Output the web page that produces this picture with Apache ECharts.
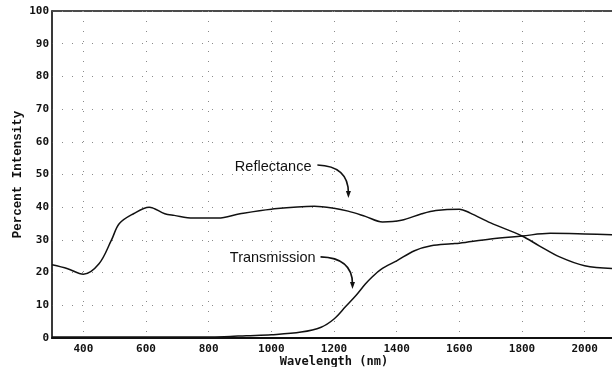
<!DOCTYPE html>
<html>
<head>
<meta charset="utf-8">
<script src="https://cdn.jsdelivr.net/npm/echarts@6/dist/echarts.min.js"></script>
<style>
html,body{margin:0;padding:0;background:#fff;}
#main{width:612px;height:367px;}
</style>
</head>
<body>
<div id="main"></div>
<script>
// ---- data ----
var reflWave = [300, 350, 400, 450, 490, 515, 560, 610, 660, 690, 750, 830, 900, 1000, 1137, 1200, 1245, 1300, 1355, 1415, 1480, 1525, 1600, 1635, 1700, 1800, 1855, 1920, 2000, 2100];
var reflVals = [22.4, 21.2, 19.5, 22.7, 30, 35, 38, 40, 38, 37.5, 36.7, 36.7, 38, 39.4, 40.3, 39.7, 38.8, 37.2, 35.5, 36, 38, 39, 39.4, 38.2, 35.2, 31.2, 28.2, 24.8, 22.1, 21.2];
var transWave = [300, 500, 700, 850, 920, 1000, 1095, 1159, 1200, 1238, 1270, 1300, 1320, 1350, 1400, 1457, 1510, 1575, 1600, 1700, 1800, 1890, 2000, 2100];
var transVals = [0.3, 0.3, 0.3, 0.4, 0.7, 1, 1.8, 3.3, 5.8, 9.7, 13, 16.5, 18.5, 21, 23.6, 26.7, 28.2, 28.8, 29, 30.3, 31.2, 32, 31.8, 31.5];
var xTicks = [400, 600, 800, 1000, 1200, 1400, 1600, 1800, 2000];
var xTitle = 'Wavelength (nm)';
var yTitle = 'Percent Intensity';
var annoRefl = {text: 'Reflectance', at: [1128, 52.3], arrow: [[1147, 52.9], [1246, 52.6], [1246, 43.1]]};
var annoTrans = {text: 'Transmission', at: [1141, 24.6], arrow: [[1157, 24.8], [1259, 24.5], [1259, 15.3]]};

function pairs(xs, ys){ return xs.map(function(x,i){ return [x, ys[i]]; }); }

var chart = echarts.init(document.getElementById('main'), null, {renderer:'canvas'});
var mono = 'DejaVu Sans Mono';
var gridDot = {show:true, lineStyle:{color:'#8a8a8a', width:1, type:[1,9]}};

chart.setOption({
  animation:false,
  backgroundColor:'#fff',
  grid:{left:52, right:-4, top:11, bottom:29, show:true, borderColor:'#111', borderWidth:1.5,
        containLabel:false, outerBoundsMode:'none'},
  xAxis:{
    type:'value', min:300, max:2100,
    axisLine:{show:true, lineStyle:{color:'#111', width:2}},
    axisTick:{show:false, customValues:xTicks},
    axisLabel:{customValues:xTicks, color:'#111', fontFamily:mono, fontWeight:'bold', fontSize:11, margin:6,
               formatter:function(v){ return String(v); }},
    splitLine:gridDot,
    name:xTitle, nameLocation:'middle', nameGap:18, nameMoveOverlap:false,
    nameTextStyle:{fontFamily:mono, fontWeight:'bold', fontSize:12, color:'#111'}
  },
  yAxis:{
    type:'value', min:0, max:100, interval:10,
    axisLine:{show:true, lineStyle:{color:'#333', width:1.5}},
    axisTick:{show:false},
    axisLabel:{color:'#111', fontFamily:mono, fontWeight:'bold', fontSize:11, margin:3,
               formatter:function(v){ return String(v); }},
    splitLine:gridDot,
    name:yTitle, nameLocation:'middle', nameGap:28, nameRotate:90, nameMoveOverlap:false,
    nameTextStyle:{fontFamily:'Liberation Mono', fontWeight:'bold', fontSize:12.5, color:'#111'}
  },
  series:[
    {type:'line', name:'Reflectance', data:pairs(reflWave, reflVals), smooth:0.35, showSymbol:false,
     lineStyle:{color:'#111', width:1.5}},
    {type:'line', name:'Transmission', data:pairs(transWave, transVals), smooth:0.35, showSymbol:false,
     lineStyle:{color:'#111', width:1.5}}
  ]
});

function px(p){ return chart.convertToPixel({gridIndex:0}, p); }
function anno(a){
  var t = px(a.at), s = px(a.arrow[0]), c = px(a.arrow[1]), e = px(a.arrow[2]);
  return [
    {type:'text', x:t[0], y:t[1], style:{text:a.text, fill:'#111', font:'14.5px "Liberation Sans"', align:'right', verticalAlign:'middle'}},
    {type:'bezierCurve', shape:{x1:s[0], y1:s[1], x2:e[0], y2:e[1]-4, cpx1:c[0], cpy1:c[1]}, style:{stroke:'#111', lineWidth:1.6, fill:null}},
    {type:'polygon', shape:{points:[[e[0]-2.5, e[1]-6], [e[0]+2.5, e[1]-6], [e[0], e[1]+1]]}, style:{fill:'#111'}}
  ];
}
chart.setOption({graphic: anno(annoRefl).concat(anno(annoTrans))});
</script>
</body>
</html>
